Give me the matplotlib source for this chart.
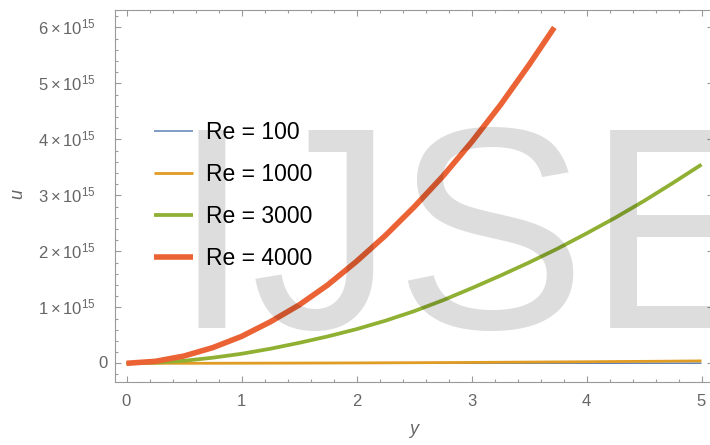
import matplotlib
matplotlib.use("Agg")
import matplotlib.pyplot as plt
from matplotlib.ticker import MultipleLocator
import matplotlib.transforms as mtrans

plt.rcParams['font.family'] = ['Liberation Sans', 'DejaVu Sans']
plt.rcParams['mathtext.fontset'] = 'custom'
plt.rcParams['mathtext.rm'] = 'Liberation Sans'
plt.rcParams['mathtext.it'] = 'Liberation Sans:italic'

# ---- data (u in units of 1e15) ----
y_fine = [0, 0.25, 0.5, 0.75, 1.0, 1.25, 1.5, 1.75, 2.0, 2.25, 2.5, 2.75,
          3.0, 3.25, 3.5, 3.75, 4.0, 4.25, 4.5, 4.75, 5.0]
u_re100 = [0, 0, 0, 0.0001, 0.0001, 0.0002, 0.0002, 0.0003, 0.0004, 0.0005, 0.0006, 0.0007,
           0.0008, 0.0009, 0.001, 0.0011, 0.0012, 0.0014, 0.0015, 0.0017, 0.0018]
u_re1000 = [0, 0.0002, 0.0005, 0.001, 0.002, 0.003, 0.004, 0.0055, 0.007, 0.009, 0.011, 0.0135,
            0.016, 0.019, 0.022, 0.025, 0.028, 0.032, 0.035, 0.039, 0.043]
u_re3000 = [0, 0.012, 0.045, 0.10, 0.17, 0.26, 0.365, 0.48, 0.61, 0.76, 0.93, 1.125,
            1.34, 1.565, 1.80, 2.05, 2.32, 2.60, 2.90, 3.22, 3.55]
y_re4000 = [0, 0.25, 0.5, 0.75, 1.0, 1.25, 1.5, 1.75, 2.0, 2.25, 2.5, 2.75,
            3.0, 3.25, 3.5, 3.72]
u_re4000 = [0, 0.035, 0.13, 0.28, 0.48, 0.74, 1.04, 1.40, 1.82, 2.28, 2.79, 3.34,
            3.95, 4.61, 5.33, 6.0]
labels = ["Re = 100", "Re = 1000", "Re = 3000", "Re = 4000"]
ytick_vals = [0, 1, 2, 3, 4, 5, 6]
ytick_labels = ["0", r"$1\times10^{15}$", r"$2\times10^{15}$", r"$3\times10^{15}$",
                r"$4\times10^{15}$", r"$5\times10^{15}$", r"$6\times10^{15}$"]
xtick_vals = [0, 1, 2, 3, 4, 5]

SCALE = 1e15
colors = ["#5E81B5", "#E19C24", "#8FB032", "#EB6235"]
lws = [1.1, 2.0, 2.7, 4.0]

W, H = 710, 445
fig = plt.figure(figsize=(W / 100, H / 100), dpi=100)
ax = fig.add_axes([115 / W, 1 - 382 / H, 598 / W, 372.5 / H])

series = [(y_fine, u_re100), (y_fine, u_re1000), (y_fine, u_re3000), (y_re4000, u_re4000)]
handles = []
for (xs, us), c, lw, lab in zip(series, colors, lws, labels):
    h, = ax.plot(xs, [v * SCALE for v in us], color=c, lw=lw, label=lab,
                 solid_capstyle='butt', solid_joinstyle='round', zorder=2)
    handles.append(h)

ax.set_xlim(-0.1, 5.1)
ax.set_ylim(-0.334 * SCALE, 6.32 * SCALE)

gray = "#999999"
for s in ax.spines.values():
    s.set_color(gray)
    s.set_linewidth(0.8)

ax.xaxis.set_major_locator(MultipleLocator(1))
ax.xaxis.set_minor_locator(MultipleLocator(0.2))
ax.yaxis.set_major_locator(MultipleLocator(SCALE))
ax.yaxis.set_minor_locator(MultipleLocator(0.2 * SCALE))
ax.tick_params(which='both', direction='in', top=True, right=True, color=gray, width=0.8)
ax.tick_params(which='major', length=4.5)
ax.tick_params(which='minor', length=2.2)
ax.tick_params(axis='x', labelsize=12, labelcolor='#666666', pad=9)
ax.set_xticks(xtick_vals)
ax.set_xticklabels([str(v) for v in xtick_vals])
ax.tick_params(axis='y', labelleft=False)

# y tick labels drawn as text at data positions
trans = mtrans.blended_transform_factory(ax.transAxes, ax.transData)
for v, lab in zip(ytick_vals, ytick_labels):
    off = -7 if v == 0 else -19
    t = mtrans.offset_copy(trans, fig=fig, x=off, y=0, units='dots')
    ax.text(0, v * SCALE, lab, transform=t, ha='right', va='center',
            fontsize=12, color='#666666')

ax.set_xlabel("y", fontsize=13, color='#666666', style='italic', labelpad=8)
fig.text(18 / W, 1 - 194 / H, "u", fontsize=13, color='#666666', style='italic',
         rotation=90, ha='center', va='center')

# watermark
fig.text(171 / W, 1 - 328 / H, "IJSE", fontsize=207, color='black', alpha=0.135,
         ha='left', va='baseline', family='Liberation Sans', zorder=3)

leg = ax.legend(handles=handles, loc='upper left',
                bbox_to_anchor=(154 / W, 1 - 121 / H), bbox_transform=fig.transFigure,
                frameon=False, fontsize=16.5, handlelength=1.7, handletextpad=0.57,
                labelspacing=0.83, borderpad=0, borderaxespad=0)
leg.set_zorder(5)

fig.savefig("out.png", dpi=100)
